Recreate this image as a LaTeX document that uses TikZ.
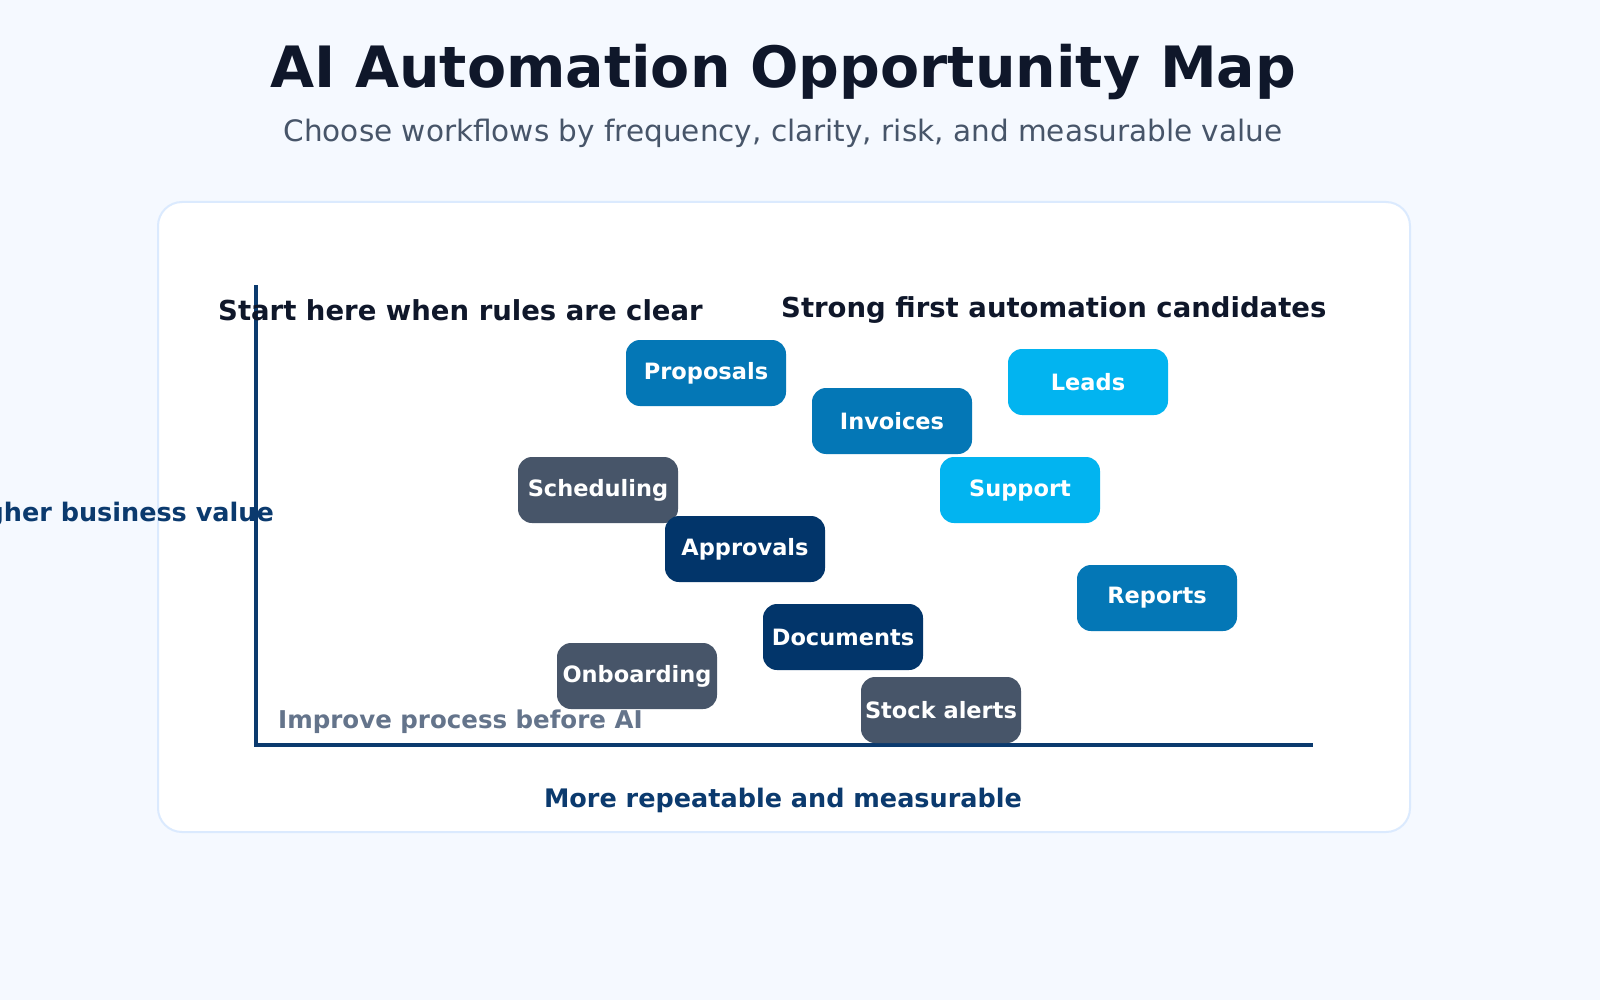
\documentclass[tikz,border=0pt]{standalone}
\usepackage{fontspec}
\setmainfont{DejaVu Sans}
\definecolor{bg}{HTML}{F5F9FF}
\definecolor{panelb}{HTML}{DBEAFE}
\definecolor{ink}{HTML}{0F172A}
\definecolor{sub}{HTML}{475569}
\definecolor{axis}{HTML}{0B3A6E}
\definecolor{mid}{HTML}{0477B6}
\definecolor{sky}{HTML}{02B4F0}
\definecolor{slate}{HTML}{475569}
\definecolor{navy}{HTML}{02356A}
\definecolor{muted}{HTML}{64748B}
\begin{document}
\begin{tikzpicture}[x=1pt,y=-1pt,
  box/.style={rounded corners=14pt,minimum width=160pt,minimum height=66pt,text=white,font=\fontsize{22.5}{26}\selectfont\bfseries,inner sep=0pt},
  lab/.style={font=\fontsize{27.5}{32}\selectfont\bfseries,text=ink,inner sep=0pt}]
\fill[bg] (0,0) rectangle (1600,1000);
\node[font=\fontsize{57}{66}\selectfont\bfseries,text=ink] (title) at (783,72) {AI Automation Opportunity Map};
\node[font=\fontsize{29.5}{34}\selectfont,text=sub] (subt) at (783,133) {Choose workflows by frequency, clarity, risk, and measurable value};
\draw[panelb,line width=2pt,fill=white,rounded corners=24pt] (158,202) rectangle (1410,832);
\coordinate (top) at (256,285); \coordinate (orig) at (256,745); \coordinate (right) at (1313,745);
\draw[axis,line width=4pt] (top) -- (orig) -- (right);
\node[lab,anchor=west] (q1) at (218,310) {Start here when rules are clear};
\node[lab,anchor=west] (q2) at (781,310) {Strong first automation candidates};
\node[lab,anchor=west,text=muted,font=\fontsize{24.5}{28}\selectfont\bfseries] (q3) at (278,722) {Improve process before AI};
\begin{scope}
\clip (0,0) rectangle (1600,1000);
\node[lab,anchor=east,text=axis,font=\fontsize{25.5}{29}\selectfont\bfseries] (ylab) at (274,515) {Higher business value};
\end{scope}
\node[lab,text=axis,font=\fontsize{25.5}{29}\selectfont\bfseries] (xlab) at (783,800) {More repeatable and measurable};
\node[box,fill=mid] (b1) at (706,373) {Proposals};
\node[box,fill=mid] (b2) at (892,421) {Invoices};
\node[box,fill=sky] (b3) at (1088,382) {Leads};
\node[box,fill=slate] (b4) at (598,490) {Scheduling};
\node[box,fill=sky] (b5) at (1020,490) {Support};
\node[box,fill=navy] (b6) at (745,549) {Approvals};
\node[box,fill=mid] (b7) at (1157,598) {Reports};
\node[box,fill=navy] (b8) at (843,637) {Documents};
\node[box,fill=slate] (b9) at (637,676) {Onboarding};
\node[box,fill=slate] (b10) at (941,710) {Stock alerts};
\pgfresetboundingbox
\useasboundingbox (0,0) rectangle (1600,1000);
\end{tikzpicture}
\end{document}
